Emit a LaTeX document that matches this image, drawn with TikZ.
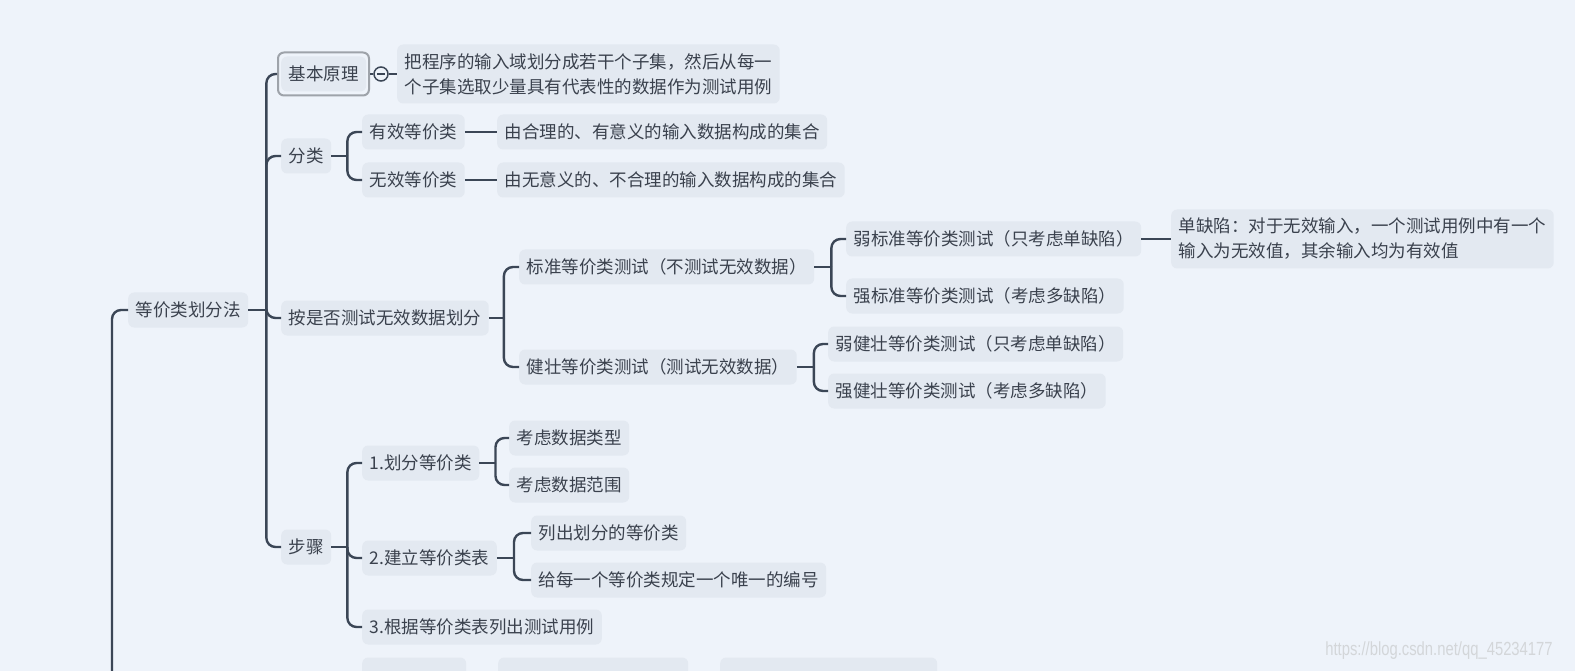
\documentclass[tikz,border=0pt]{standalone}
\usepackage{fontspec}
\usepackage{tikz}
\newfontfamily\cjk{Noto Sans CJK SC}
\newfontfamily\wmfont{Liberation Sans}
\definecolor{pagebg}{HTML}{EEF3FA}
\definecolor{boxfill}{HTML}{E3E9F1}
\definecolor{inkc}{HTML}{3A414D}
\definecolor{linec}{HTML}{3B4656}
\definecolor{selc}{HTML}{9EA3AA}
\tikzset{
  topic/.style={anchor=west,fill=boxfill,rounded corners=6pt,inner xsep=7.5pt,inner ysep=0pt,
    minimum height=35pt,text=inkc,font=\cjk\fontsize{17.5}{25}\selectfont},
  note/.style={topic,align=left,inner ysep=8pt,minimum height=59pt},
  selbox/.style={anchor=west,draw=selc,line width=2pt,fill=pagebg,rounded corners=6pt,
    minimum width=91pt,minimum height=43pt},
  link/.style={draw=linec,line width=2.4pt},
  fork/.style={link,rounded corners=9pt}
}
\def\dlink{\draw[link]}
\def\dfork{\draw[fork]}

\begin{document}
\begin{tikzpicture}[x=1pt,y=-1pt]
  \fill[pagebg] (0,0) rectangle (1575,671);
  \useasboundingbox (0,0) rectangle (1575,671);
  % first level
  \node[topic] (root) at (128,310) {等价类划分法};
  \node[selbox] (sel) at (277,74) {};
  \node[topic] (jb) at (281,74) {基本原理};
  \node[topic] (fl) at (281,156) {分类};
  \node[topic] (aj) at (281,318) {按是否测试无效数据划分};
  \node[topic] (bs) at (281,547) {步骤};
  % 基本原理
  \node[circle,draw=linec,line width=1.5pt,fill=pagebg,minimum size=14pt,inner sep=0pt] (cl) at (381,74) {};
  \node[note] (jbd) at (397,74) {把程序的输入域划分成若干个子集，然后从每一\\个子集选取少量具有代表性的数据作为测试用例};
  % 分类
  \node[topic] (yx) at (362,132) {有效等价类};
  \node[topic] (yxd) at (497,132) {由合理的、有意义的输入数据构成的集合};
  \node[topic] (wx) at (362,180) {无效等价类};
  \node[topic] (wxd) at (497,180) {由无意义的、不合理的输入数据构成的集合};
  % 按是否测试无效数据划分
  \node[topic] (bz) at (519,267) {标准等价类测试（不测试无效数据）};
  \node[topic] (jz) at (519,367) {健壮等价类测试（测试无效数据）};
  \node[topic] (rb) at (846,239) {弱标准等价类测试（只考虑单缺陷）};
  \node[note] (dq) at (1171,239) {单缺陷：对于无效输入，一个测试用例中有一个\\输入为无效值，其余输入均为有效值};
  \node[topic] (qb) at (846,296) {强标准等价类测试（考虑多缺陷）};
  \node[topic] (rj) at (828,344) {弱健壮等价类测试（只考虑单缺陷）};
  \node[topic] (qj) at (828,391) {强健壮等价类测试（考虑多缺陷）};
  % 步骤
  \node[topic] (s1) at (362,463) {1.划分等价类};
  \node[topic] (lx) at (509,438) {考虑数据类型};
  \node[topic] (fw) at (509,485) {考虑数据范围};
  \node[topic] (s2) at (362,558) {2.建立等价类表};
  \node[topic] (lc) at (531,533) {列出划分的等价类};
  \node[topic] (bh) at (531,580) {给每一个等价类规定一个唯一的编号};
  \node[topic] (s3) at (362,627) {3.根据等价类表列出测试用例};
  % next branch, cut by the bottom edge
  \node[topic,minimum width=104pt] (b1) at (362,675) {};
  \node[topic,minimum width=190pt] (b2) at (498,675) {};
  \node[topic,minimum width=217pt] (b3) at (720,675) {};

  \coordinate (rootup) at (112,700);
  \dfork (root.west) -| (rootup);
  \dlink (root.east) -- ++(18,0) coordinate (rf);
  \dfork (rf) |- (sel.west);
  \dfork (rf) |- (fl.west);
  \dfork (rf) |- (aj.west);
  \dfork (rf) |- (bs.west);

  \dlink (sel.east) -- (cl.west);
  \dlink (cl.east) -- (jbd.west);
  \draw[linec,line width=1.5pt] ([xshift=-4pt]cl.center) -- ([xshift=4pt]cl.center);

  \dlink (fl.east) -- ++(16,0) coordinate (ff);
  \dfork (ff) |- (yx.west);
  \dfork (ff) |- (wx.west);
  \dlink (yx.east) -- (yxd.west);
  \dlink (wx.east) -- (wxd.west);

  \dlink (aj.east) -- ++(15,0) coordinate (af);
  \dfork (af) |- (bz.west);
  \dfork (af) |- (jz.west);
  \dlink (bz.east) -- ++(17,0) coordinate (bf);
  \dfork (bf) |- (rb.west);
  \dfork (bf) |- (qb.west);
  \dlink (rb.east) -- (dq.west);
  \dlink (jz.east) -- ++(17,0) coordinate (jf);
  \dfork (jf) |- (rj.west);
  \dfork (jf) |- (qj.west);

  \dlink (bs.east) -- ++(16,0) coordinate (sf);
  \dfork (sf) |- (s1.west);
  \dfork (sf) |- (s2.west);
  \dfork (sf) |- (s3.west);
  \dlink (s1.east) -- ++(16,0) coordinate (s1f);
  \dfork (s1f) |- (lx.west);
  \dfork (s1f) |- (fw.west);
  \dlink (s2.east) -- ++(17,0) coordinate (s2f);
  \dfork (s2f) |- (lc.west);
  \dfork (s2f) |- (bh.west);

  \node[text=selc!45,font=\wmfont\fontsize{19}{20}\selectfont,xscale=0.78] (wm) at (1439,651) {https://blog.csdn.net/qq\_45234177};
\end{tikzpicture}
\end{document}
